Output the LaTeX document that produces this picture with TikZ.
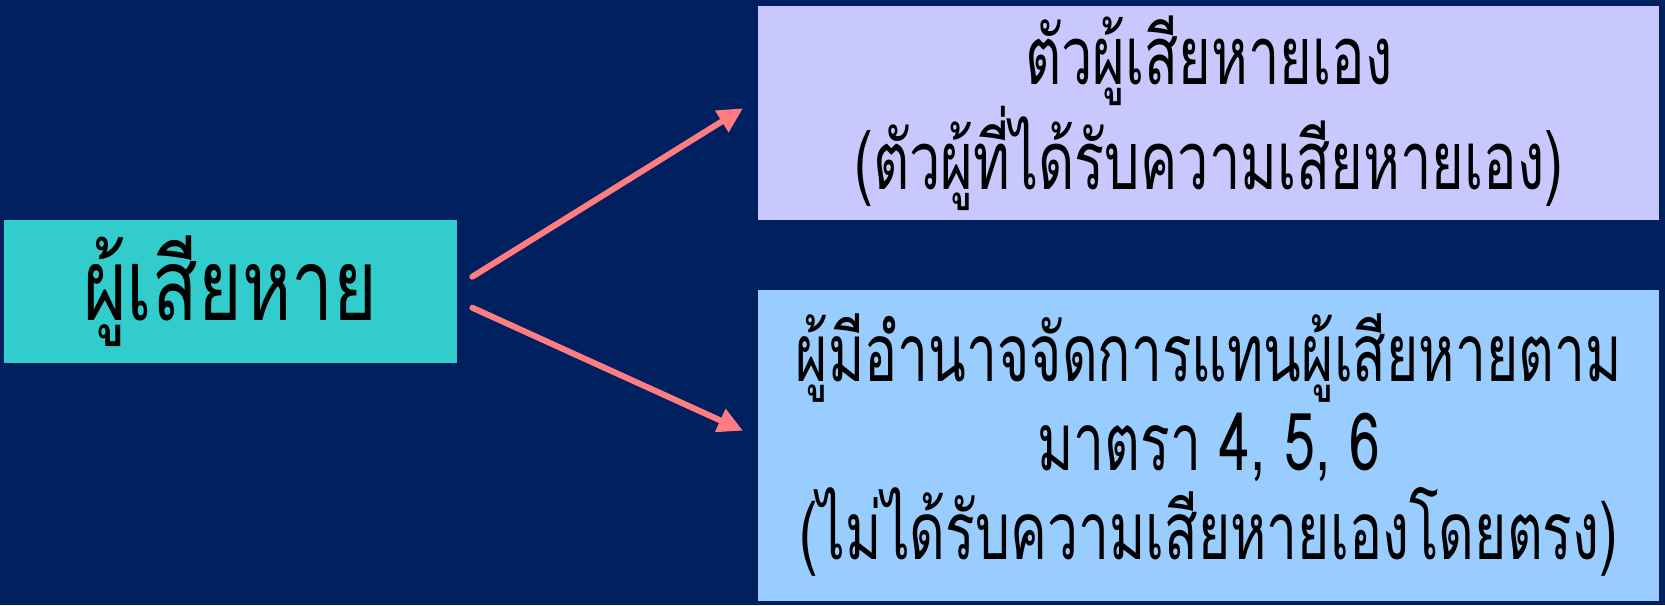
\documentclass[tikz,border=0pt]{standalone}
\usepackage{fontspec}
\newfontfamily\thaiwide[Script=Thai,FakeStretch=0.75]{Loma}
\newfontfamily\thainarrow[Script=Thai,FakeStretch=0.69]{Loma}
\usetikzlibrary{arrows.meta}
\definecolor{bgnavy}{HTML}{002060}
\definecolor{tealbox}{HTML}{33CCCC}
\definecolor{lilacbox}{HTML}{C8C8FF}
\definecolor{skybox}{HTML}{99CCFF}
\definecolor{arrowpink}{HTML}{FF7C80}
\tikzset{
  box/.style={draw=none, inner sep=0pt, align=center, text=black},
  link/.style={draw=arrowpink, line width=6pt, line cap=round,
    -{Triangle[length=25pt,width=24pt]}},
}
\begin{document}
\begin{tikzpicture}[x=1pt,y=-1pt]
\fill[bgnavy] (0,0) rectangle (1665,605);
\useasboundingbox (0,0) rectangle (1665,605);
\node[box, fill=tealbox, minimum width=452.4pt, minimum height=143.4pt,
  font=\thaiwide\fontsize{100}{110}\selectfont] (a) at (230.4,291.5) {ผู้เสียหาย};
\node[box, fill=lilacbox, minimum width=900.5pt, minimum height=213.4pt,
  font=\thainarrow\fontsize{81}{99}\selectfont] (b) at (1208.7,113.1)
  {ตัวผู้เสียหายเอง\\(ตัวผู้ที่ได้รับความเสียหายเอง)};
\node[box, fill=skybox, minimum width=900.5pt, minimum height=311pt,
  font=\thainarrow\fontsize{80}{89}\selectfont] (c) at (1208.7,445.5)
  {ผู้มีอำนาจจัดการแทนผู้เสียหายตาม\\มาตรา 4, 5, 6\\(ไม่ได้รับความเสียหายเองโดยตรง)};
\coordinate (s1) at (472.3,276.7);
\coordinate (e1) at (743,108.3);
\coordinate (s2) at (472.3,307.7);
\coordinate (e2) at (743,430.7);
\draw[link] (s1) -- (e1);
\draw[link] (s2) -- (e2);
\end{tikzpicture}
\end{document}
